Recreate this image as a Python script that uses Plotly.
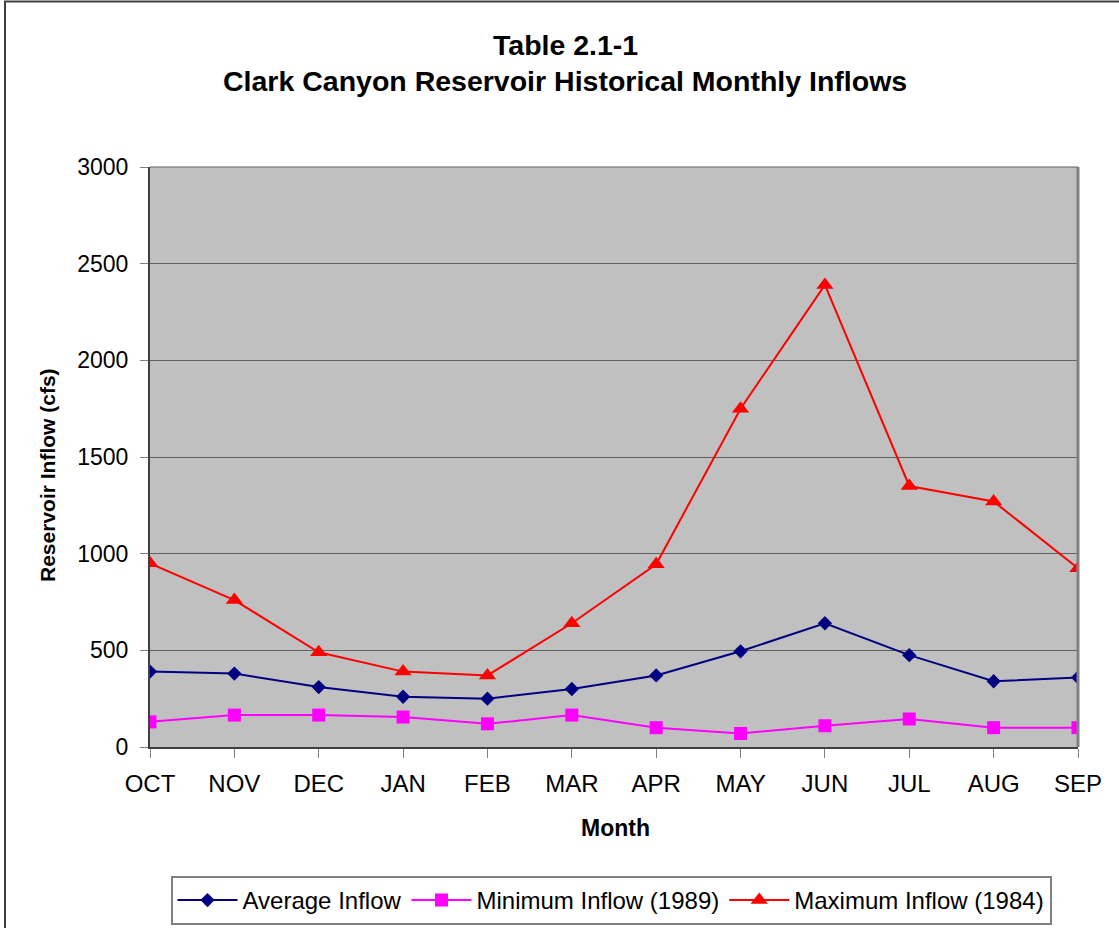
import plotly.graph_objects as go

months = ["OCT", "NOV", "DEC", "JAN", "FEB", "MAR", "APR", "MAY", "JUN", "JUL", "AUG", "SEP"]
average_inflow = [390, 380, 310, 260, 250, 300, 370, 495, 640, 475, 340, 360]
minimum_inflow_1989 = [130, 165, 165, 155, 120, 165, 100, 70, 110, 145, 100, 100]
maximum_inflow_1984 = [950, 760, 490, 390, 370, 640, 945, 1750, 2390, 1350, 1270, 925]

FONT = "Liberation Sans, Arial, sans-serif"

W, H = 1119, 928
L, R, T, B = 150, 41, 167, 181
PW, PH = W - L - R, H - T - B


def px(x):
    return (x - L) / PW


def py(y):
    return (H - B - y) / PH


fig = go.Figure()
fig.add_trace(go.Scatter(
    x=months, y=average_inflow, name="Average Inflow", mode="lines+markers",
    line=dict(color="#000080", width=2),
    marker=dict(symbol="diamond", size=11, color="#000080")))
fig.add_trace(go.Scatter(
    x=months, y=minimum_inflow_1989, name="Minimum Inflow (1989)", mode="lines+markers",
    line=dict(color="#FF00FF", width=2),
    marker=dict(symbol="square", size=13, color="#FF00FF")))
fig.add_trace(go.Scatter(
    x=months, y=maximum_inflow_1984, name="Maximum Inflow (1984)", mode="lines+markers",
    line=dict(color="#FF0000", width=2),
    marker=dict(symbol="triangle-up", size=15, color="#FF0000")))

fig.update_layout(
    width=W, height=H,
    margin=dict(l=L, r=R, t=T, b=B, autoexpand=False),
    paper_bgcolor="white", plot_bgcolor="#C0C0C0",
    font=dict(family=FONT, size=23, color="black"),
    showlegend=True,
    legend=dict(orientation="h", x=px(611), xanchor="center", y=py(876), yanchor="top",
                bordercolor="#808080", borderwidth=2, bgcolor="white",
                font=dict(family=FONT, size=24), itemwidth=60, tracegroupgap=0),
    xaxis=dict(type="category", categoryorder="array", categoryarray=months,
               range=[0, len(months) - 1], showgrid=False, zeroline=False,
               showline=True, linecolor="#404040", linewidth=2, mirror=False,
               ticks="outside", ticklen=9, tickcolor="#808080", tickwidth=1,
               ticklabelstandoff=5,
               tickfont=dict(family=FONT, size=24)),
    yaxis=dict(range=[0, 3000], dtick=500, showgrid=True, gridcolor="#606060", gridwidth=1,
               zeroline=False, showline=True, linecolor="#404040", linewidth=2, mirror=False,
               ticks="outside", ticklen=8, tickcolor="#808080", tickwidth=1,
               ticklabelstandoff=7,
               tickfont=dict(family=FONT, size=23)),
    annotations=[
        dict(text="<b>Table 2.1-1</b>", x=px(565), y=py(45), xref="paper", yref="paper",
             showarrow=False, xanchor="center", yanchor="middle",
             font=dict(family=FONT, size=28.5)),
        dict(text="<b>Clark Canyon Reservoir Historical Monthly Inflows</b>", x=px(565), y=py(81),
             xref="paper", yref="paper", showarrow=False, xanchor="center", yanchor="middle",
             font=dict(family=FONT, size=28.5)),
        dict(text="<b>Month</b>", x=px(615), y=py(828), xref="paper", yref="paper",
             showarrow=False, xanchor="center", yanchor="middle",
             font=dict(family=FONT, size=23)),
        dict(text="<b>Reservoir Inflow (cfs)</b>", x=px(47), y=py(475), xref="paper", yref="paper",
             showarrow=False, xanchor="center", yanchor="middle", textangle=-90,
             font=dict(family=FONT, size=21)),
    ],
    shapes=[
        dict(type="line", xref="paper", yref="paper", x0=1, x1=1, y0=0, y1=1,
             line=dict(color="#808080", width=3)),
        dict(type="line", xref="paper", yref="paper", x0=0, x1=1, y0=1, y1=1,
             line=dict(color="#606060", width=1)),
        dict(type="rect", xref="paper", yref="paper", x0=px(5), x1=px(1130), y0=py(940), y1=py(1.5),
             line=dict(color="#404040", width=2), fillcolor="rgba(0,0,0,0)", layer="below"),
    ],
)

fig.write_html("out.html", config={"displayModeBar": False},
               post_script="document.body.style.margin='0';")
